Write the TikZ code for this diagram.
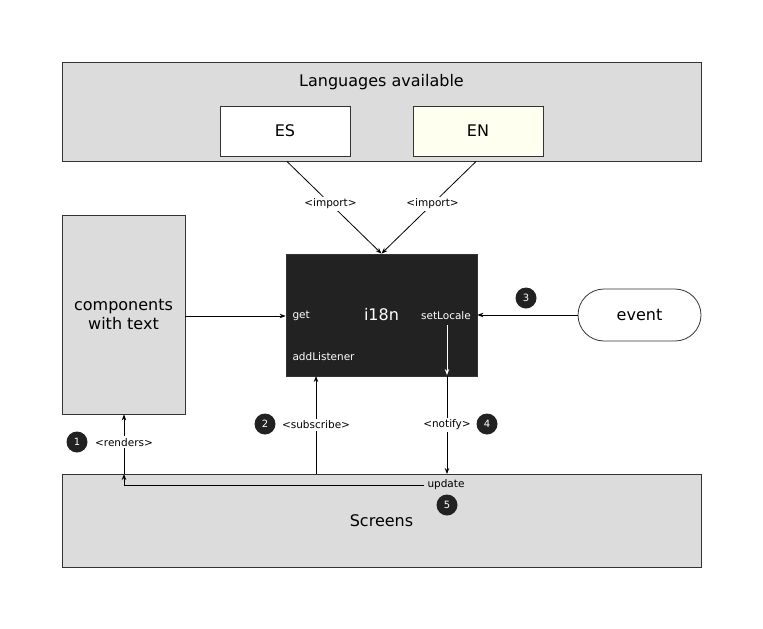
\documentclass[tikz,border=0pt]{standalone}
\usepackage{fontspec}
\setmainfont{DejaVu Sans}
\usetikzlibrary{arrows.meta}
\definecolor{boxgray}{HTML}{DCDCDC}
\definecolor{darkbox}{HTML}{222222}
\definecolor{ivory}{HTML}{FFFFF0}
\begin{document}
\begin{tikzpicture}[x=1pt,y=-1pt,
  big/.style={font=\fontsize{16}{19}\selectfont},
  small/.style={font=\fontsize{10.5}{12}\selectfont},
  tiny/.style={font=\fontsize{10}{11}\selectfont},
  panel/.style={draw=black!80, line width=0.8pt, fill=boxgray, inner sep=0pt, big},
  whitebox/.style={draw=black!80, line width=0.8pt, fill=white, inner sep=0pt, big},
  arr/.style={line width=0.8pt, -{Stealth[length=6pt,width=4.5pt]}},
  lbl/.style={small, fill=white, inner sep=2pt},
  num/.style={circle, fill=darkbox, text=white, tiny, minimum size=21pt, inner sep=0pt}
]
\useasboundingbox (0,0) rectangle (763,629);

% boxes
\node[panel, minimum width=639pt, minimum height=99pt] (lang) at (381.5,111.5) {};
\node[big] (langt) at (381.5,82) {Languages available};
\node[whitebox, minimum width=130pt, minimum height=50pt] (es) at (285,131) {ES};
\node[whitebox, fill=ivory, minimum width=130pt, minimum height=50pt] (en) at (478,131) {EN};

\node[draw=black!80, line width=0.8pt, fill=darkbox, minimum width=191pt, minimum height=122pt, inner sep=0pt] (i18n) at (381.5,315) {};
\node[big, text=white] (i18nt) at (381.5,315) {i18n};
\node[small, text=white, anchor=west] (get) at (289,316) {get};
\node[small, text=white] (setl) at (446,316) {setLocale};
\node[small, text=white, anchor=west] (addl) at (289,357) {addListener};

\node[panel, minimum width=123pt, minimum height=199pt, align=center] (comp) at (123.5,314.5) {components\\with text};
\node[whitebox, minimum width=123pt, minimum height=52pt, rounded corners=26pt] (event) at (639.5,315) {event};
\node[panel, minimum width=639pt, minimum height=93pt] (screens) at (381.5,520.5) {};
\node[big] (scrt) at (381.5,521) {Screens};
\node[small, inner sep=3pt] (upd) at (446,485) {update};

% connectors
\coordinate (imp1) at (287,161.5);
\coordinate (imp2) at (476,161.5);
\draw[arr] (imp1) -- node[lbl, pos=0.46] {<import>} (i18n.north);
\draw[arr] (imp2) -- node[lbl, pos=0.46] {<import>} (i18n.north);
\draw[arr] (comp.east |- get) -- (i18n.west |- get);
\draw[arr] (event.west) -- (i18n.east |- event.west);
\coordinate (nw) at (447,325);
\coordinate (nb) at (447,376);
\draw[arr, white] (nw) -- (447,375);
\draw[arr] (nb) -- node[lbl] {<notify>} (447,474);
\coordinate (sb) at (316,474);
\draw[arr] (sb) -- node[lbl] {<subscribe>} (316,376);
\coordinate (rb) at (124,474);
\draw[arr] (upd.west) -| (rb);
\draw[arr] (rb) -- node[lbl, pos=0.53] {<renders>} (comp.south -| rb);

% numbers
\node[num] (n1) at (77,442) {1};
\node[num] (n2) at (265,424) {2};
\node[num] (n3) at (526,298) {3};
\node[num] (n4) at (487,424) {4};
\node[num] (n5) at (447,505) {5};
\end{tikzpicture}
\end{document}
